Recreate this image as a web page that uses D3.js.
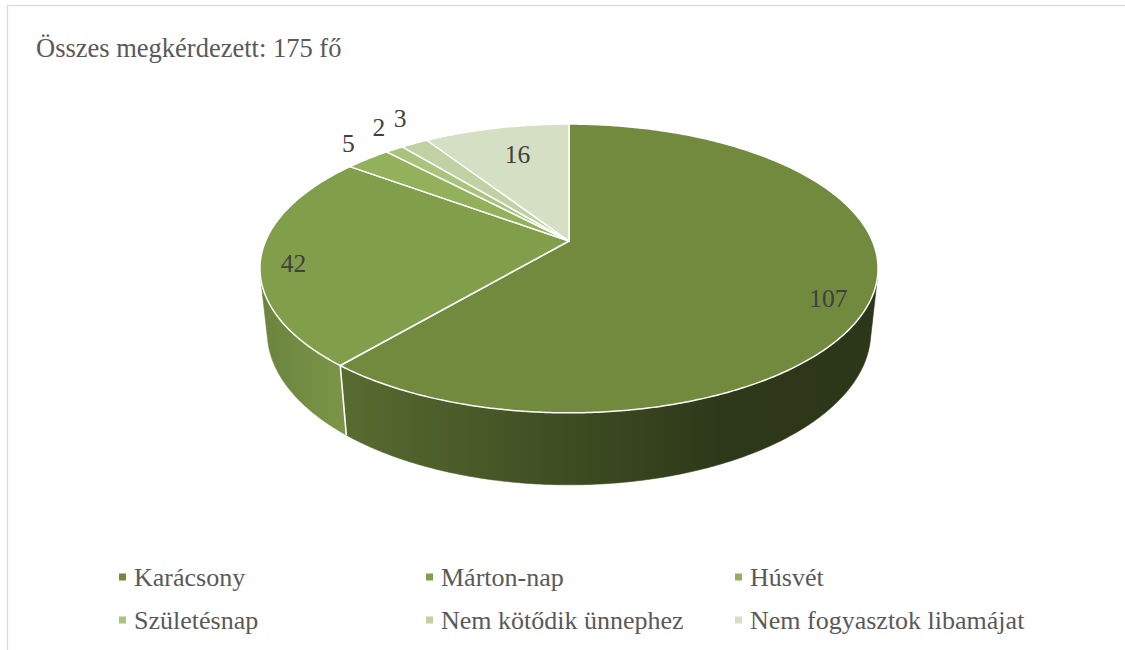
<!DOCTYPE html>
<html>
<head>
<meta charset="utf-8">
<script src="https://cdn.jsdelivr.net/npm/d3@7"></script>
<style>
  body { margin: 0; background: #fff; }
  text { font-family: "Liberation Serif", "Times New Roman", serif; }
</style>
</head>
<body>
<div id="chart"></div>
<script>
// data
const categories = ["Karácsony", "Márton-nap", "Húsvét", "Születésnap", "Nem kötődik ünnephez", "Nem fogyasztok libamájat"];
const values = [107, 42, 5, 2, 3, 16];
const colors = ["#718a3e", "#819e4b", "#93b05a", "#a8c37c", "#c0d1a3", "#d5dfc3"];
const title = "Összes megkérdezett: 175 fő";

const width = 1125, height = 650;

// 3D pie geometry (perspective)
const cx = 569, cy = 241;       // pie centre on screen
const R = 303.4;                // radius
const phi = 27.3 * Math.PI / 180; // tilt
const D = 1418;                 // camera distance
const H = 72;                   // thickness

// side shading per slice (multipliers of the top colour, left -> right)
const sideShade = [
  [[0, 0.78], [0.45, 0.54], [0.7, 0.41], [1, 0.39]],
  [[0, 0.83], [1, 0.95]],
  [[0, 0.85], [1, 0.95]],
  [[0, 0.85], [1, 0.95]],
  [[0, 0.85], [1, 0.95]],
  [[0, 0.85], [1, 0.95]]
];
// label placement: radius fraction and angle shift (deg)
const labelPlace = [
  { f: 0.88, da: 5.6 }, { f: 0.895, da: -3.1 }, { f: 1.17, da: 2.5 },
  { f: 1.22, da: 3.7 }, { f: 1.25, da: 3.7 }, { f: 0.735, da: 1.3 }
];

function proj(theta, r, h) {
  const x = r * Math.sin(theta), z = -r * Math.cos(theta);
  const v = z * Math.sin(phi) - h * Math.cos(phi);
  const w = z * Math.cos(phi) + h * Math.sin(phi);
  const s = D / (D - w);
  return [cx + x * s, cy + v * s];
}

function arcPts(a0, a1, r, h) {
  const n = Math.max(2, Math.ceil(Math.abs(a1 - a0) / 0.01));
  return d3.range(n + 1).map(i => proj(a0 + (a1 - a0) * i / n, r, h));
}

function shade(c, k) {
  const rgb = d3.rgb(c);
  return d3.rgb(rgb.r * k, rgb.g * k, rgb.b * k).formatHex();
}

const svg = d3.select("#chart").append("svg")
  .attr("width", width)
  .attr("height", height);

// frame
svg.append("rect")
  .attr("x", 7.5).attr("y", 5.5)
  .attr("width", width + 10).attr("height", height + 10)
  .attr("fill", "#fff")
  .attr("stroke", "#d9d9d9")
  .attr("stroke-width", 1.3);

// title
svg.append("text")
  .attr("x", 36).attr("y", 57)
  .attr("fill", "#595959")
  .style("font-size", "26.5px")
  .text(title);

const pie = d3.pie().sort(null).value(d => d)(values);
const line = d3.line();
const defs = svg.append("defs");

// silhouette angle of the cylinder side
const thS = Math.acos(-R / (D * Math.cos(phi)));
const vis0 = thS, vis1 = 2 * Math.PI - thS;

const gWalls = svg.append("g");
const gTop = svg.append("g");
const gLabels = svg.append("g");

pie.forEach((p, i) => {
  const a0 = Math.max(p.startAngle, vis0), a1 = Math.min(p.endAngle, vis1);
  if (a1 <= a0) return;
  const top = arcPts(a0, a1, R, 0);
  const bot = arcPts(a0, a1, R, -H).reverse();
  const xs = top.concat(bot).map(d => d[0]);
  const grad = defs.append("linearGradient")
    .attr("id", "side" + i)
    .attr("gradientUnits", "userSpaceOnUse")
    .attr("x1", d3.min(xs)).attr("x2", d3.max(xs))
    .attr("y1", 0).attr("y2", 0);
  grad.selectAll("stop").data(sideShade[i]).enter().append("stop")
    .attr("offset", d => d[0])
    .attr("stop-color", d => shade(colors[i], d[1]));
  gWalls.append("path")
    .attr("d", line(top.concat(bot)) + "Z")
    .attr("fill", `url(#side${i})`)
    .attr("stroke", `url(#side${i})`)
    .attr("stroke-width", 0.6);
});

// white edges on the side at slice boundaries
pie.forEach(p => {
  const a = p.startAngle;
  if (a > vis0 && a < vis1) {
    const t = proj(a, R, 0), b = proj(a, R, -H);
    gWalls.append("line")
      .attr("x1", t[0]).attr("y1", t[1])
      .attr("x2", b[0]).attr("y2", b[1])
      .attr("stroke", "#fff")
      .attr("stroke-width", 1.6);
  }
});

// top faces
pie.forEach((p, i) => {
  const pts = [proj(0, 0, 0)].concat(arcPts(p.startAngle, p.endAngle, R, 0));
  gTop.append("path")
    .attr("d", line(pts) + "Z")
    .attr("fill", colors[i])
    .attr("stroke", "#fff")
    .attr("stroke-width", 1.5)
    .attr("stroke-linejoin", "round");
});

// data labels
pie.forEach((p, i) => {
  const lp = labelPlace[i];
  const a = (p.startAngle + p.endAngle) / 2 + lp.da * Math.PI / 180;
  const pos = proj(a, R * lp.f, 0);
  gLabels.append("text")
    .attr("x", pos[0]).attr("y", pos[1])
    .attr("dy", "0.35em")
    .attr("text-anchor", "middle")
    .attr("fill", "#404040")
    .style("font-size", "25.5px")
    .text(values[i]);
});

// legend
const legendCols = [119, 426, 735], legendRows = [577, 620];
const legend = svg.append("g");
categories.forEach((c, i) => {
  const x = legendCols[i % 3], y = legendRows[Math.floor(i / 3)];
  legend.append("rect")
    .attr("x", x).attr("y", y - 3.5)
    .attr("width", 7).attr("height", 7)
    .attr("fill", colors[i]);
  legend.append("text")
    .attr("x", x + 15).attr("y", y)
    .attr("dy", "0.33em")
    .attr("fill", "#595959")
    .style("font-size", "26px")
    .text(c);
});
</script>
</body>
</html>
